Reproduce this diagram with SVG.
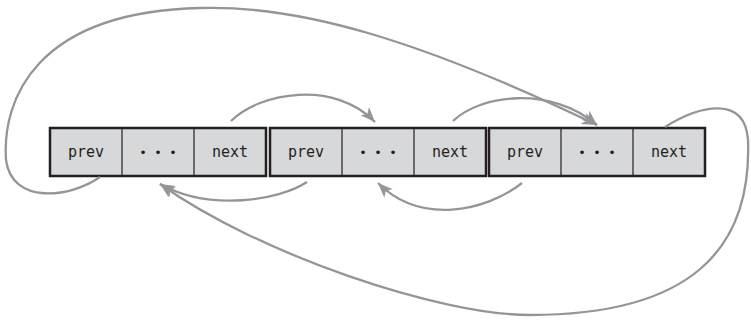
<svg xmlns="http://www.w3.org/2000/svg" width="751" height="320" viewBox="0 0 751 320">
<style>
.box{fill:#d7d8da;stroke:#231f20;stroke-width:2.5}
.div{stroke:#231f20;stroke-width:1.2;fill:none}
.t{font-family:"DejaVu Sans Mono","Liberation Mono",monospace;font-size:15px;fill:#231f20;text-anchor:middle}
.d{font-family:"DejaVu Sans Mono","Liberation Mono",monospace;font-size:12.5px;fill:#231f20;text-anchor:middle}
.c{fill:none;stroke:#939598;stroke-width:2.3}
</style>
<defs>
<marker id="ah" markerUnits="userSpaceOnUse" markerWidth="16" markerHeight="12" refX="15" refY="6" orient="auto" viewBox="0 0 16 12">
<path d="M0,0 L15,6 L0,12 L4,6 z" fill="#939598"/>
</marker>
</defs>
<g id="node1">
<rect class="box" x="50" y="128" width="216" height="48"/>
<line class="div" x1="122" y1="128" x2="122" y2="176"/>
<line class="div" x1="194" y1="128" x2="194" y2="176"/>
<text class="t" x="86" y="157">prev</text>
<text class="d" x="158" y="157">• • •</text>
<text class="t" x="230" y="157">next</text>
</g>
<g id="node2">
<rect class="box" x="270" y="128" width="216" height="48"/>
<line class="div" x1="342" y1="128" x2="342" y2="176"/>
<line class="div" x1="414" y1="128" x2="414" y2="176"/>
<text class="t" x="306" y="157">prev</text>
<text class="d" x="378" y="157">• • •</text>
<text class="t" x="450" y="157">next</text>
</g>
<g id="node3">
<rect class="box" x="489" y="128" width="216" height="48"/>
<line class="div" x1="561" y1="128" x2="561" y2="176"/>
<line class="div" x1="633" y1="128" x2="633" y2="176"/>
<text class="t" x="525" y="157">prev</text>
<text class="d" x="597" y="157">• • •</text>
<text class="t" x="669" y="157">next</text>
</g>
<g id="connectors">
<path class="c" d="M231,121 C260,92 335,80 375,122" marker-end="url(#ah)"/>
<path class="c" d="M453,121 C480,95 550,85 597,125" marker-end="url(#ah)"/>
<path class="c" d="M100,177 C70,198 12,205 6,160 C2,100 35,12 200,8 C300,5 420,40 597,125" marker-end="url(#ah)"/>
<path class="c" d="M665,127 C700,105 745,95 748,140 C752,250 690,315 530,315 C440,315 260,255 160,184" marker-end="url(#ah)"/>
<path class="c" d="M307,182 C280,200 210,212 160,184" marker-end="url(#ah)"/>
<path class="c" d="M522,183 C485,212 420,225 378,183" marker-end="url(#ah)"/>
</g>
</svg>
